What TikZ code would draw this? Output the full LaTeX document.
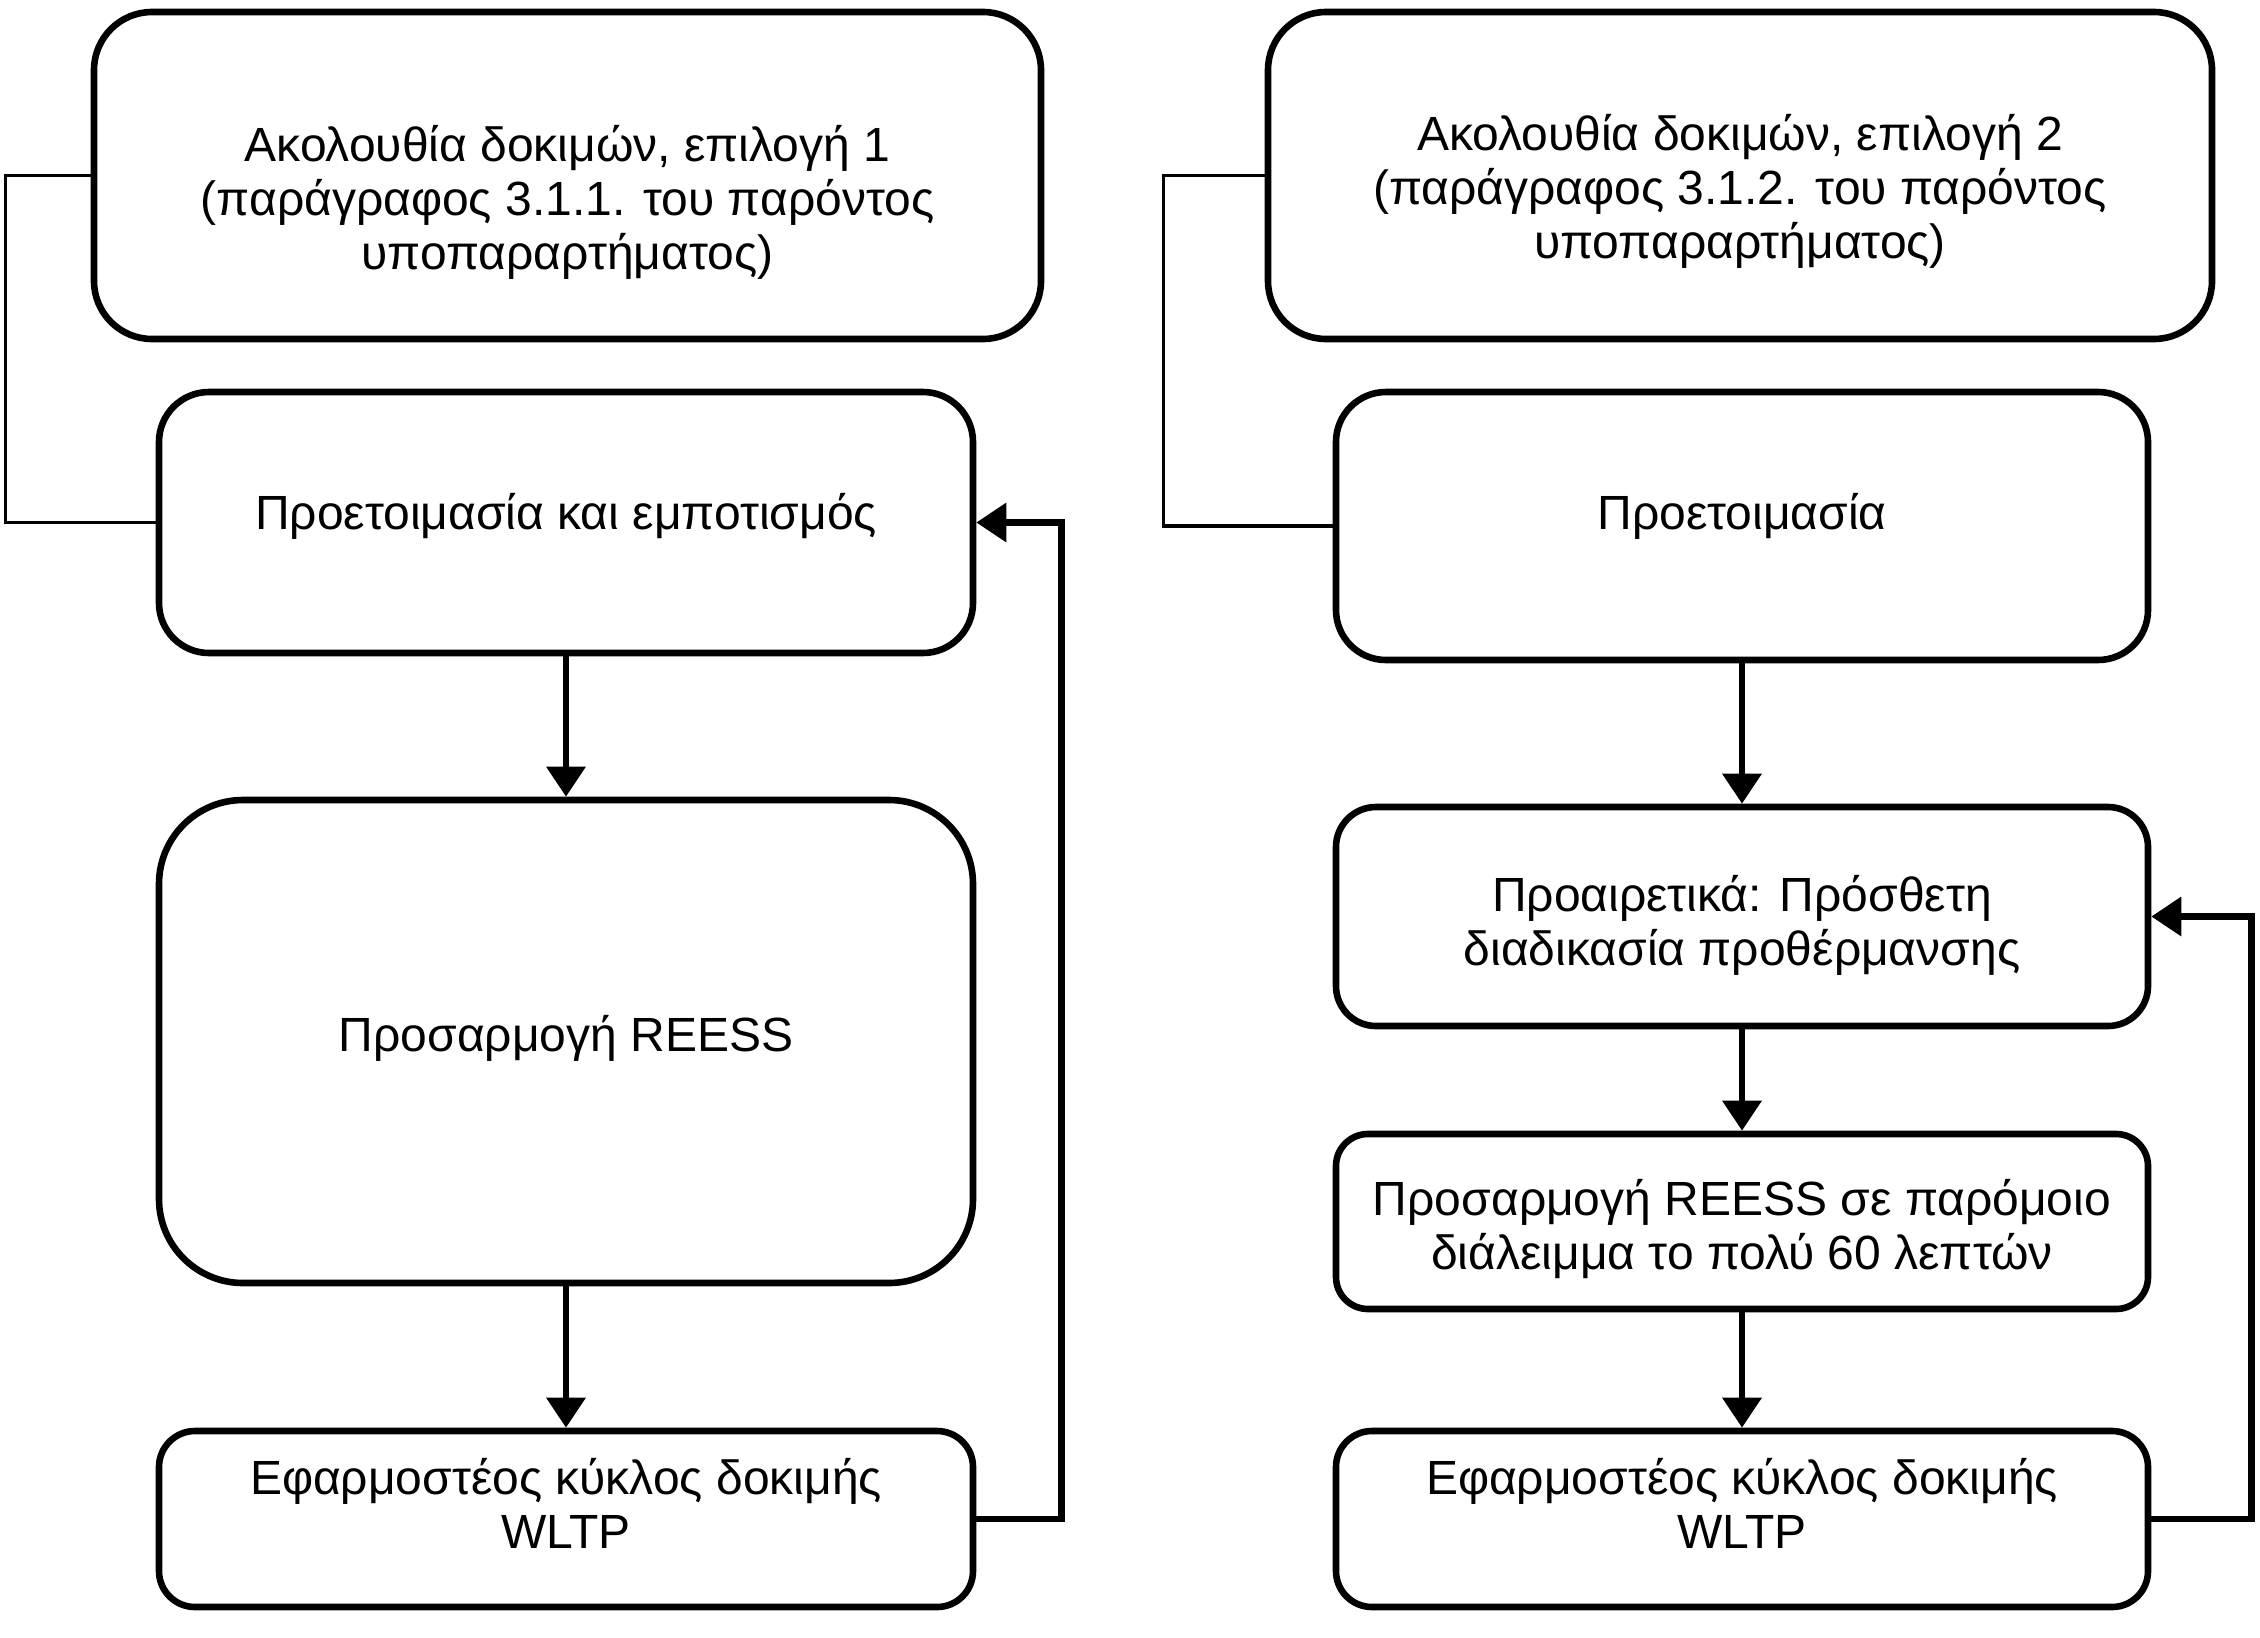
\documentclass[tikz,border=0pt]{standalone}
\usepackage{fontspec}
\setmainfont{Liberation Sans}
\usetikzlibrary{arrows.meta}
\begin{document}
\begin{tikzpicture}[x=0.5pt,y=-0.5pt,
  box/.style={draw, line width=3.3pt, inner sep=0pt},
  txt/.style={align=center, inner sep=0pt, font=\fontsize{24}{27}\selectfont},
  flow/.style={line width=3.3pt, -{Triangle[length=15pt,width=19pt]}},
  thin/.style={line width=1.6pt}]
\useasboundingbox (0,0) rectangle (2260,1638);
% left column
\node[box, rounded corners=29pt, minimum width=473.5pt, minimum height=163.5pt] (A1) at (567.5,175.5) {};
\node[txt] (tA1) at (567.5,202)
  {Ακολουθία δοκιμών, επιλογή 1\\(παράγραφος 3.1.1. του παρόντος\\υποπαραρτήματος)};
\node[box, rounded corners=25pt, minimum width=407pt, minimum height=130.5pt] (B1) at (566,522.5) {};
\node[txt] (tB1) at (566,516) {Προετοιμασία και εμποτισμός};
\node[box, rounded corners=42pt, minimum width=407pt, minimum height=241.5pt] (C1) at (566,1041.5) {};
\node[txt] (tC1) at (566,1038.5) {Προσαρμογή REESS};
\node[box, rounded corners=18pt, minimum width=407pt, minimum height=88pt] (D1) at (566,1519) {};
\node[txt] (tD1) at (566,1503) {Εφαρμοστέος κύκλος δοκιμής\\WLTP};
% right column
\node[box, rounded corners=29pt, minimum width=472pt, minimum height=163.5pt] (A2) at (1740,175.5) {};
\node[txt] (tA2) at (1740,191)
  {Ακολουθία δοκιμών, επιλογή 2\\(παράγραφος 3.1.2. του παρόντος\\υποπαραρτήματος)};
\node[box, rounded corners=25pt, minimum width=406pt, minimum height=134pt] (B2) at (1742,526) {};
\node[txt] (tB2) at (1742,516) {Προετοιμασία};
\node[box, rounded corners=20pt, minimum width=406pt, minimum height=109.5pt] (C2) at (1742,916.5) {};
\node[txt] (tC2) at (1742,925.5) {Προαιρετικά: Πρόσθετη\\διαδικασία προθέρμανσης};
\node[box, rounded corners=16pt, minimum width=406pt, minimum height=87.5pt] (D2) at (1742,1221.5) {};
\node[txt] (tD2) at (1742,1229.5) {Προσαρμογή REESS σε παρόμοιο\\διάλειμμα το πολύ 60 λεπτών};
\node[box, rounded corners=18pt, minimum width=406pt, minimum height=88pt] (E2) at (1742,1519) {};
\node[txt] (tE2) at (1742,1503) {Εφαρμοστέος κύκλος δοκιμής\\WLTP};
% connectors left
\draw[thin] (A1.west) -- ++(-85,0) |- (B1.west);
\draw[flow] (B1.south) -- (C1.north);
\draw[flow] (C1.south) -- (D1.north);
\draw[flow] (D1.east) -- ++(85,0) |- (B1.east);
% connectors right
\draw[thin] (A2.west) -- ++(-101,0) |- (B2.west);
\draw[flow] (B2.south) -- (C2.north);
\draw[flow] (C2.south) -- (D2.north);
\draw[flow] (D2.south) -- (E2.north);
\draw[flow] (E2.east) -- ++(100,0) |- (C2.east);
\end{tikzpicture}
\end{document}
